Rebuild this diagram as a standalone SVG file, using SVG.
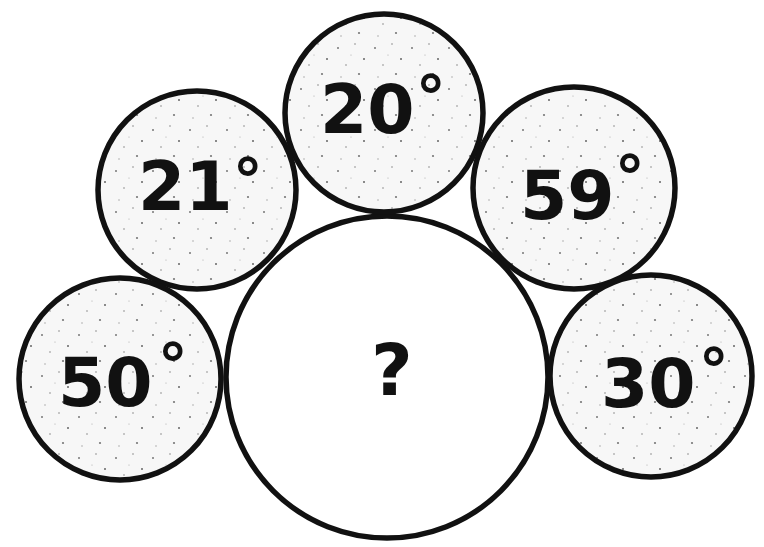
<svg xmlns="http://www.w3.org/2000/svg" width="764" height="547" viewBox="0 0 764 547">
  <style>
    .ring { stroke: #111; stroke-width: 5.5; }
    .small { fill: url(#stipple); }
    .big { fill: #ffffff; }
    .num { font-family: "DejaVu Sans", "Liberation Sans", sans-serif; font-weight: bold; font-size: 68px; fill: #111; }
    .deg { font-weight: bold; font-size: 60px; }
    .q { font-family: "DejaVu Sans", "Liberation Sans", sans-serif; font-weight: bold; font-size: 72px; fill: #111; }
  </style>
  <defs>
    <pattern id="stipple" width="37" height="41" patternUnits="userSpaceOnUse">
      <rect width="37" height="41" fill="#f7f7f7"/>
      <circle cx="5" cy="7" r="1" fill="#777"/>
      <circle cx="22" cy="3" r="0.8" fill="#888"/>
      <circle cx="31" cy="18" r="1" fill="#666"/>
      <circle cx="13" cy="24" r="0.8" fill="#888"/>
      <circle cx="26" cy="33" r="1.1" fill="#777"/>
      <circle cx="8" cy="36" r="0.7" fill="#999"/>
      <circle cx="18" cy="14" r="0.6" fill="#aaa"/>
    </pattern>
  </defs>
  <rect width="764" height="547" fill="#ffffff"/>
  <g id="node-big">
    <circle class="ring big" cx="387" cy="377" r="161"/>
    <text class="q" x="371" y="395">?</text>
  </g>
  <g id="node-20">
    <circle class="ring small" cx="384" cy="113" r="99"/>
    <text class="num" x="320" y="133">20<tspan class="deg" dx="1" dy="-14">°</tspan></text>
  </g>
  <g id="node-21">
    <circle class="ring small" cx="197" cy="190" r="99"/>
    <text class="num" x="138" y="210">21<tspan class="deg" dy="-8">°</tspan></text>
  </g>
  <g id="node-59">
    <circle class="ring small" cx="574" cy="188" r="101"/>
    <text class="num" x="520" y="219">59<tspan class="deg" dy="-20">°</tspan></text>
  </g>
  <g id="node-50">
    <circle class="ring small" cx="120" cy="379" r="101"/>
    <text class="num" x="58" y="406">50<tspan class="deg" dx="5" dy="-19">°</tspan></text>
  </g>
  <g id="node-30">
    <circle class="ring small" cx="651" cy="376" r="101"/>
    <text class="num" x="601" y="407">30<tspan class="deg" dx="3" dy="-15">°</tspan></text>
  </g>
  <g id="connectors"></g>
</svg>
